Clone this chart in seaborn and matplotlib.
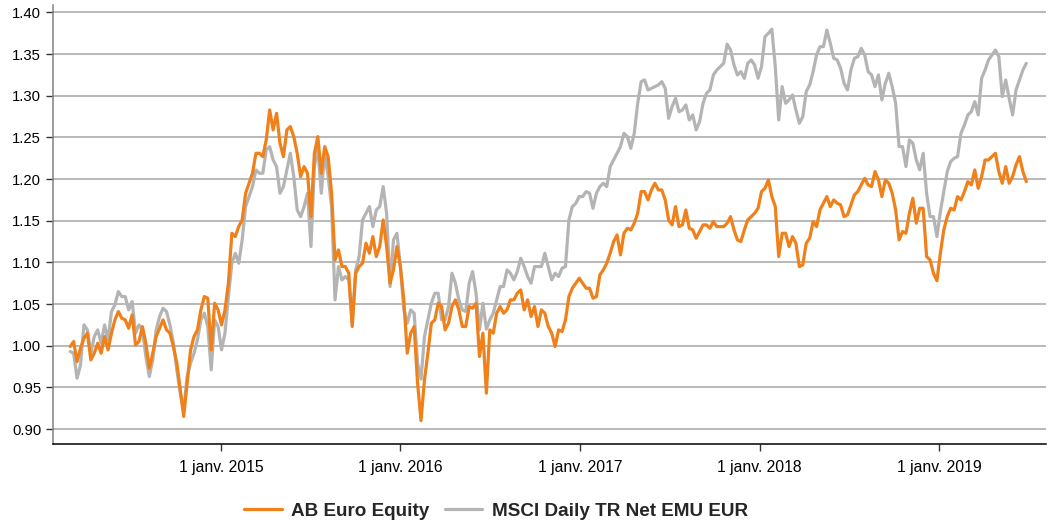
import matplotlib
matplotlib.use("Agg")
import matplotlib.pyplot as plt
import pandas as pd
import seaborn as sns

# weekly closes, rebased to 1.00
start_date = "2014-02-28"

ab_euro_equity = [
    0.999, 1.005, 0.981, 0.997, 1.009, 1.015, 0.983, 0.991, 1.003, 0.991,
    1.011, 0.995, 1.015, 1.031, 1.041, 1.033, 1.031, 1.021, 1.037, 1.001,
    1.005, 1.023, 1.003, 0.973, 0.991, 1.011, 1.021, 1.031, 1.019, 1.015,
    0.999, 0.979, 0.947, 0.915, 0.955, 0.995, 1.011, 1.019, 1.043, 1.059,
    1.057, 0.995, 1.051, 1.043,
    1.025, 1.043, 1.075, 1.135, 1.131, 1.143, 1.151, 1.183, 1.195, 1.207,
    1.231, 1.231, 1.227, 1.247, 1.283, 1.259, 1.279, 1.243, 1.227, 1.259,
    1.263, 1.251, 1.231, 1.203, 1.215, 1.207, 1.155, 1.231, 1.251, 1.207,
    1.239, 1.227, 1.183, 1.103, 1.115, 1.095, 1.095, 1.087, 1.023, 1.087,
    1.095, 1.099, 1.123, 1.111, 1.131, 1.107, 1.119, 1.151, 1.119,
    1.075, 1.091, 1.119, 1.095, 1.055, 0.991, 1.015, 1.023, 0.955, 0.910,
    0.959, 0.991, 1.027, 1.031, 1.051, 1.047, 1.019, 1.027, 1.047, 1.055,
    1.043, 1.023, 1.023, 1.047, 1.045, 1.051, 0.987, 1.015, 0.943, 1.019,
    1.015, 1.039, 1.047, 1.039, 1.043, 1.055, 1.055, 1.063, 1.067, 1.043,
    1.055, 1.035, 1.047, 1.023, 1.043, 1.039, 1.023, 1.015, 0.999, 1.019,
    1.017, 1.031, 1.059, 1.069, 1.075, 1.081, 1.075, 1.069, 1.069, 1.057,
    1.059, 1.085, 1.091, 1.099, 1.111, 1.125, 1.133, 1.109, 1.135, 1.141,
    1.139, 1.147, 1.159, 1.185, 1.185, 1.175, 1.187, 1.195, 1.187, 1.187,
    1.175, 1.151, 1.145, 1.167, 1.143, 1.145, 1.163, 1.141, 1.139, 1.129,
    1.137, 1.145, 1.145, 1.141, 1.149, 1.143, 1.143, 1.143, 1.147, 1.155,
    1.139, 1.127, 1.125, 1.139, 1.151, 1.155, 1.159, 1.165, 1.185, 1.189,
    1.199, 1.179, 1.167, 1.107, 1.135, 1.135, 1.119, 1.131, 1.123, 1.095,
    1.097, 1.123, 1.129, 1.149, 1.143, 1.163, 1.171, 1.179, 1.167, 1.175,
    1.171, 1.169, 1.155, 1.157, 1.169, 1.181, 1.185, 1.193, 1.201, 1.193,
    1.191, 1.209, 1.199, 1.179, 1.199, 1.195, 1.183, 1.163, 1.127,
    1.137, 1.135, 1.159, 1.177, 1.147, 1.165, 1.165, 1.107, 1.103, 1.087,
    1.078, 1.111, 1.139, 1.155, 1.165, 1.163, 1.179, 1.175, 1.185, 1.197,
    1.193, 1.211, 1.189, 1.203, 1.223, 1.223, 1.227, 1.231, 1.209, 1.195,
    1.215, 1.195, 1.203, 1.217, 1.227, 1.209, 1.197,
]

msci_emu = [
    0.993, 0.991, 0.961, 0.977, 1.025, 1.019, 0.991, 1.011, 1.019, 1.003,
    1.025, 1.007, 1.041, 1.049, 1.065, 1.059, 1.059, 1.043, 1.053, 1.015,
    1.025, 1.019, 0.987, 0.963, 0.983, 1.019, 1.035, 1.045, 1.041, 1.025,
    1.003, 0.971, 0.943, 0.923, 0.963, 0.979, 0.991, 1.007, 1.031, 1.039,
    1.023, 0.971, 1.031, 1.023,
    0.995, 1.015, 1.059, 1.099, 1.111, 1.099, 1.127, 1.167, 1.179, 1.191,
    1.211, 1.207, 1.207, 1.235, 1.239, 1.223, 1.215, 1.183, 1.191, 1.211,
    1.231, 1.203, 1.163, 1.155, 1.167, 1.183, 1.119, 1.215, 1.239, 1.183,
    1.231, 1.203, 1.167, 1.055, 1.095, 1.079, 1.083, 1.079, 1.027, 1.091,
    1.107, 1.151, 1.159, 1.167, 1.143, 1.163, 1.167, 1.191, 1.159,
    1.071, 1.127, 1.135, 1.095, 1.043, 1.027, 1.043, 1.039, 0.979, 0.960,
    1.011, 1.031, 1.051, 1.063, 1.063, 1.031, 1.031, 1.047, 1.087, 1.075,
    1.055, 1.043, 1.041, 1.075, 1.089, 1.063, 1.019, 1.051, 1.020, 1.031,
    1.039, 1.055, 1.071, 1.071, 1.091, 1.087, 1.079, 1.089, 1.105, 1.095,
    1.083, 1.075, 1.095, 1.095, 1.095, 1.111, 1.095, 1.079, 1.087, 1.083,
    1.093, 1.095, 1.151, 1.167, 1.171, 1.179, 1.179, 1.185, 1.183, 1.165,
    1.183, 1.191, 1.195, 1.191, 1.215, 1.223, 1.231, 1.239, 1.255, 1.251,
    1.237, 1.255, 1.291, 1.317, 1.319, 1.307, 1.309, 1.311, 1.313, 1.317,
    1.309, 1.273, 1.287, 1.297, 1.281, 1.283, 1.289, 1.271, 1.277, 1.259,
    1.269, 1.291, 1.303, 1.307, 1.325, 1.331, 1.335, 1.339, 1.362, 1.355,
    1.337, 1.325, 1.329, 1.321, 1.339, 1.343, 1.337, 1.321, 1.335, 1.371,
    1.375, 1.380, 1.335, 1.271, 1.311, 1.291, 1.295, 1.301, 1.283, 1.267,
    1.275, 1.305, 1.313, 1.329, 1.349, 1.359, 1.359, 1.379, 1.363, 1.345,
    1.343, 1.333, 1.315, 1.307, 1.331, 1.345, 1.347, 1.357, 1.349, 1.329,
    1.325, 1.311, 1.325, 1.295, 1.315, 1.327, 1.311, 1.291, 1.239,
    1.239, 1.215, 1.247, 1.243, 1.223, 1.211, 1.231, 1.183, 1.155, 1.155,
    1.131, 1.161, 1.185, 1.209, 1.221, 1.225, 1.227, 1.255, 1.265, 1.277,
    1.281, 1.293, 1.277, 1.321, 1.331, 1.343, 1.349, 1.355, 1.347, 1.299,
    1.319, 1.297, 1.277, 1.307, 1.319, 1.331, 1.339,
]

series_names = ["AB Euro Equity", "MSCI Daily TR Net EMU EUR"]
series_colors = {"AB Euro Equity": "#F0801A", "MSCI Daily TR Net EMU EUR": "#B4B4B4"}

year_ticks = ["2015-01-01", "2016-01-01", "2017-01-01", "2018-01-01", "2019-01-01"]
year_labels = ["1 janv. 2015", "1 janv. 2016", "1 janv. 2017", "1 janv. 2018", "1 janv. 2019"]
y_ticks = [0.90, 0.95, 1.00, 1.05, 1.10, 1.15, 1.20, 1.25, 1.30, 1.35, 1.40]

# %%
dates = pd.date_range(start_date, periods=len(ab_euro_equity), freq="7D")
df = pd.concat([
    pd.DataFrame({"date": dates, "value": ab_euro_equity, "series": series_names[0]}),
    pd.DataFrame({"date": dates, "value": msci_emu, "series": series_names[1]}),
])

sns.set_style("white")
plt.rcParams["font.family"] = ["Liberation Sans", "DejaVu Sans"]

fig = plt.figure(figsize=(10.55, 5.21), dpi=100)
ax = fig.add_axes([53 / 1055, 1 - 444 / 521, (1046 - 53) / 1055, (444 - 5) / 521])

# index drawn first, fund on top
sns.lineplot(data=df[df["series"] == series_names[1]], x="date", y="value",
             color=series_colors[series_names[1]], linewidth=2.3, ax=ax,
             label=series_names[1], estimator=None)
sns.lineplot(data=df[df["series"] == series_names[0]], x="date", y="value",
             color=series_colors[series_names[0]], linewidth=2.3, ax=ax,
             label=series_names[0], estimator=None)

ax.set_xlim(pd.Timestamp("2014-01-24"), pd.Timestamp("2019-08-07"))
ax.set_ylim(0.882, 1.409)
ax.set_xticks(pd.to_datetime(year_ticks))
ax.set_xticklabels(year_labels)
ax.set_yticks(y_ticks)
ax.set_yticklabels([f"{v:.2f}" for v in y_ticks])
ax.set_xlabel("")
ax.set_ylabel("")

ax.yaxis.grid(True, color="#A6A6A6", linewidth=1.1)
ax.xaxis.grid(False)
ax.set_axisbelow(True)
for side in ["top", "right"]:
    ax.spines[side].set_visible(False)
ax.spines["left"].set_color("#808080")
ax.spines["left"].set_linewidth(1.1)
ax.spines["bottom"].set_color("black")
ax.spines["bottom"].set_linewidth(1.1)
ax.tick_params(axis="x", bottom=True, direction="out", length=5, width=1,
               color="#333333", labelsize=11.3, pad=6.5, labelcolor="black")
ax.tick_params(axis="y", left=True, direction="out", length=5, width=1,
               color="#333333", labelsize=10.7, pad=3.5, labelcolor="black")

handles, labels = ax.get_legend_handles_labels()
ax.get_legend().remove()
order = [labels.index(n) for n in series_names]
fig.legend([handles[i] for i in order], [labels[i] for i in order],
           loc="center", bbox_to_anchor=(496 / 1055, 10 / 521), ncol=2,
           frameon=False, prop={"weight": "bold", "size": 13.6},
           handlelength=2.0, handletextpad=0.5, columnspacing=0.8)

fig.savefig("out.png", dpi=100)
